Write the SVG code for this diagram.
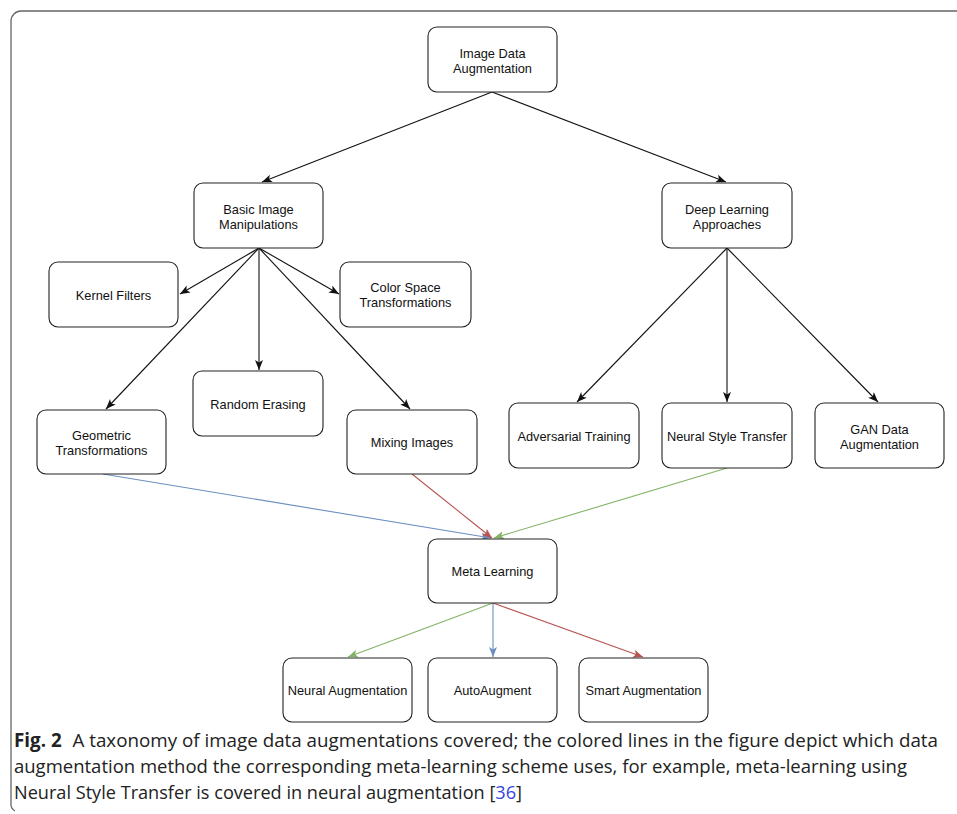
<svg xmlns="http://www.w3.org/2000/svg" width="957" height="814" viewBox="0 0 957 814">
<defs>
<style>
.node rect{fill:#fff;stroke:#222;stroke-width:1.1}
.node text{font-family:"Liberation Sans",Arial,sans-serif;font-size:12.8px;fill:#111;text-anchor:middle}
.c{fill:none;stroke-width:1.1}
.k{stroke:#111}
.b{stroke:#6c8ebf}
.r{stroke:#b85450}
.g{stroke:#82b366}
.cap{font-family:"Open Sans","Noto Sans","Liberation Sans",sans-serif;font-size:19px;fill:#222}
</style>
<marker id="ak" markerWidth="12" markerHeight="10" refX="10" refY="4" orient="auto" markerUnits="userSpaceOnUse"><path d="M0,0 L10,4 L0,8 L2.5,4 Z" fill="#111"/></marker>
<marker id="ab" markerWidth="12" markerHeight="10" refX="10" refY="4" orient="auto" markerUnits="userSpaceOnUse"><path d="M0,0 L10,4 L0,8 L2.5,4 Z" fill="#6c8ebf"/></marker>
<marker id="ar" markerWidth="12" markerHeight="10" refX="10" refY="4" orient="auto" markerUnits="userSpaceOnUse"><path d="M0,0 L10,4 L0,8 L2.5,4 Z" fill="#b85450"/></marker>
<marker id="ag" markerWidth="12" markerHeight="10" refX="10" refY="4" orient="auto" markerUnits="userSpaceOnUse"><path d="M0,0 L10,4 L0,8 L2.5,4 Z" fill="#82b366"/></marker>
</defs>
<rect width="957" height="814" fill="#fff"/>
<path d="M957,11 H21 A10,10 0 0 0 11,21 V803 A8,8 0 0 0 15,811" fill="none" stroke="#666" stroke-width="1.3"/>

<g id="connectors">
<line class="c k" x1="492" y1="92" x2="262" y2="182" marker-end="url(#ak)"/>
<line class="c k" x1="492" y1="92" x2="726" y2="182" marker-end="url(#ak)"/>
<line class="c k" x1="259" y1="248" x2="180" y2="294" marker-end="url(#ak)"/>
<line class="c k" x1="259" y1="248" x2="339" y2="294" marker-end="url(#ak)"/>
<line class="c k" x1="259" y1="248" x2="259" y2="370" marker-end="url(#ak)"/>
<line class="c k" x1="259" y1="248" x2="106" y2="409" marker-end="url(#ak)"/>
<line class="c k" x1="259" y1="248" x2="410" y2="409" marker-end="url(#ak)"/>
<line class="c k" x1="727" y1="248" x2="577" y2="402" marker-end="url(#ak)"/>
<line class="c k" x1="727" y1="248" x2="727" y2="402" marker-end="url(#ak)"/>
<line class="c k" x1="727" y1="248" x2="878" y2="402" marker-end="url(#ak)"/>
<line class="c b" x1="103" y1="474" x2="491" y2="538" marker-end="url(#ab)"/>
<line class="c r" x1="412" y1="474" x2="492" y2="538" marker-end="url(#ar)"/>
<line class="c g" x1="727" y1="468" x2="494" y2="538" marker-end="url(#ag)"/>
<line class="c g" x1="493" y1="603" x2="348" y2="657" marker-end="url(#ag)"/>
<line class="c b" x1="493" y1="603" x2="493" y2="657" marker-end="url(#ab)"/>
<line class="c r" x1="493" y1="603" x2="643" y2="657" marker-end="url(#ar)"/>
</g>

<g id="n-ida" class="node"><rect x="428" y="27" width="129" height="65" rx="9"/><text x="492.5" y="57.5">Image Data</text><text x="492.5" y="72.5">Augmentation</text></g>
<g id="n-basic" class="node"><rect x="194" y="183" width="129" height="65" rx="9"/><text x="258.5" y="213.5">Basic Image</text><text x="258.5" y="228.5">Manipulations</text></g>
<g id="n-deep" class="node"><rect x="662" y="183" width="130" height="65" rx="9"/><text x="727" y="213.5">Deep Learning</text><text x="727" y="228.5">Approaches</text></g>
<g id="n-kernel" class="node"><rect x="49" y="262" width="129" height="65" rx="9"/><text x="113.5" y="299.5">Kernel Filters</text></g>
<g id="n-color" class="node"><rect x="340" y="262" width="131" height="65" rx="9"/><text x="405.5" y="292">Color Space</text><text x="405.5" y="307">Transformations</text></g>
<g id="n-erasing" class="node"><rect x="193" y="371" width="130" height="65" rx="9"/><text x="258" y="408.5">Random Erasing</text></g>
<g id="n-geo" class="node"><rect x="37" y="410" width="129" height="64" rx="9"/><text x="101.5" y="439.5">Geometric</text><text x="101.5" y="454.5">Transformations</text></g>
<g id="n-mixing" class="node"><rect x="347" y="410" width="130" height="64" rx="9"/><text x="412" y="447">Mixing Images</text></g>
<g id="n-adv" class="node"><rect x="509" y="403" width="130" height="65" rx="9"/><text x="574" y="440.5">Adversarial Training</text></g>
<g id="n-nst" class="node"><rect x="662" y="403" width="130" height="65" rx="9"/><text x="727" y="440.5">Neural Style Transfer</text></g>
<g id="n-gan" class="node"><rect x="815" y="403" width="129" height="65" rx="9"/><text x="879.5" y="433.5">GAN Data</text><text x="879.5" y="448.5">Augmentation</text></g>
<g id="n-meta" class="node"><rect x="428" y="539" width="129" height="64" rx="9"/><text x="492.5" y="576">Meta Learning</text></g>
<g id="n-neuralaug" class="node"><rect x="283" y="658" width="129" height="64" rx="9"/><text x="347.5" y="695">Neural Augmentation</text></g>
<g id="n-auto" class="node"><rect x="428" y="658" width="129" height="64" rx="9"/><text x="492.5" y="695">AutoAugment</text></g>
<g id="n-smart" class="node"><rect x="579" y="658" width="129" height="64" rx="9"/><text x="643.5" y="695">Smart Augmentation</text></g>

<g id="caption" class="cap">
<text x="14" y="747" textLength="924" lengthAdjust="spacingAndGlyphs"><tspan font-weight="bold">Fig. 2</tspan><tspan dx="6"> A taxonomy of image data augmentations covered; the colored lines in the figure depict which data</tspan></text>
<text x="14" y="773" textLength="893" lengthAdjust="spacingAndGlyphs">augmentation method the corresponding meta-learning scheme uses, for example, meta-learning using</text>
<text x="14" y="799" textLength="508" lengthAdjust="spacingAndGlyphs">Neural Style Transfer is covered in neural augmentation [<tspan fill="#3344dd">36</tspan>]</text>
</g>
</svg>
